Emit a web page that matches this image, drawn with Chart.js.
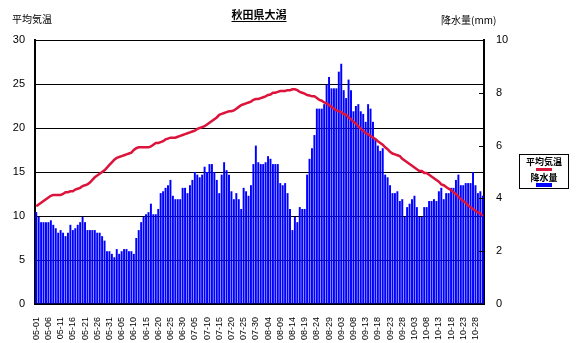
<!DOCTYPE html>
<html lang="ja">
<head>
<meta charset="utf-8">
<title>秋田県大潟</title>
<script src="https://cdn.jsdelivr.net/npm/chart.js@4/dist/chart.umd.min.js"></script>
<style>
  html, body { margin: 0; padding: 0; background: #fff; }
  #wrap { position: relative; width: 581px; height: 343px; }
  #chart { position: absolute; left: 0; top: 0; }
  .txt { position: absolute; font-family: "Noto Sans CJK JP", sans-serif; font-size: 10px; color: #000; line-height: 1; white-space: nowrap; }
  #title { left: 0; width: 518px; top: 9px; text-align: center; font-weight: bold; font-size: 11px; }
  #title span { text-decoration: underline; text-underline-offset: 2px; }
  #yLeftTitle { left: 12px; top: 14px; }
  #yRightTitle { left: 441px; top: 15px; }
  #legend {
    position: absolute; left: 519px; top: 154px; width: 50px; height: 35px;
    border: 1px solid #000; box-sizing: border-box; padding-top: 2px;
    font-family: "Noto Sans CJK JP", sans-serif; font-size: 9px; font-weight: bold;
    line-height: 10px; text-align: center;
  }
  #legend .key { width: 16px; margin: 0 auto; }
  #legend .temp { border-top: 3px solid #dc143c; margin-top: 1px; margin-bottom: 2px; }
  #legend .rain { border-top: 4px solid #0000ff; margin-top: 0; }
</style>
</head>
<body>
<div id="wrap">
  <canvas id="chart" width="581" height="343"></canvas>
  <div id="title" class="txt"><span>秋田県大潟</span></div>
  <div id="yLeftTitle" class="txt">平均気温</div>
  <div id="yRightTitle" class="txt">降水量(mm)</div>
  <div id="legend">
    <div>平均気温</div>
    <div class="key temp"></div>
    <div>降水量</div>
    <div class="key rain"></div>
  </div>
</div>
<script>
// months shown on the x axis and their day counts (05-01 .. 10-31)
const months = ['05', '06', '07', '08', '09', '10'];
const monthDays = [31, 30, 31, 31, 30, 31];

// daily mean temperature (left axis, °C)
const meanTemp = [
  11.1, 11.3, 11.5, 11.7, 11.9, 12.1, 12.3, 12.4, 12.4, 12.4,
  12.4, 12.5, 12.7, 12.7, 12.8, 12.8, 13.0, 13.1, 13.2, 13.4,
  13.5, 13.6, 13.8, 14.1, 14.4, 14.6, 14.8, 15.0, 15.2, 15.5,
  15.8, 16.1, 16.4, 16.6, 16.7, 16.8, 16.9, 17.0, 17.1, 17.2,
  17.5, 17.7, 17.8, 17.8, 17.8, 17.8, 17.8, 17.9, 18.1, 18.3,
  18.3, 18.4, 18.5, 18.7, 18.8, 18.9, 18.9, 18.9, 19.0, 19.1,
  19.2, 19.3, 19.4, 19.5, 19.6, 19.7, 19.9, 20.0, 20.1, 20.2,
  20.4, 20.6, 20.8, 21.0, 21.2, 21.5, 21.6, 21.7, 21.8, 21.9,
  21.9, 22.0, 22.2, 22.4, 22.6, 22.7, 22.8, 22.9, 23.0, 23.2,
  23.3, 23.3, 23.4, 23.5, 23.6, 23.75, 23.8, 24.0, 24.0, 24.1,
  24.2, 24.2, 24.2, 24.3, 24.3, 24.4, 24.4, 24.3, 24.1, 24.0,
  23.9, 23.75, 23.7, 23.6, 23.6, 23.4, 23.2, 23.1, 22.9, 22.8,
  22.6, 22.4, 22.2, 22.0, 21.9, 21.8, 21.6, 21.5, 21.2, 21.0,
  20.7, 20.5, 20.2, 19.9, 19.7, 19.4, 19.3, 19.1, 18.9, 18.75,
  18.5, 18.3, 18.1, 17.8, 17.6, 17.3, 17.1, 17.0, 16.9, 16.8,
  16.5, 16.3, 16.1, 15.9, 15.7, 15.5, 15.3, 15.1, 15.1, 14.9,
  14.9, 14.7, 14.5, 14.3, 14.1, 13.9, 13.6, 13.5, 13.3, 13.1,
  12.95, 12.7, 12.5, 12.2, 11.9, 11.7, 11.5, 11.2, 11.0, 10.8,
  10.6, 10.4, 10.3, 10.0
];

// daily precipitation (right axis, mm)
const precip = [
  3.48, 3.30, 3.10, 3.10, 3.10, 3.10, 3.17, 3.00, 2.87, 2.70,
  2.80, 2.70, 2.57, 2.70, 3.00, 2.80, 2.87, 3.00, 3.10, 3.30,
  3.10, 2.80, 2.80, 2.80, 2.80, 2.70, 2.70, 2.57, 2.40, 2.00,
  2.00, 1.90, 1.77, 2.08, 1.90, 2.00, 2.08, 2.08, 2.00, 2.00,
  1.90, 2.50, 2.80, 3.10, 3.30, 3.40, 3.48, 3.80, 3.40, 3.40,
  3.60, 4.20, 4.27, 4.40, 4.50, 4.70, 4.10, 3.97, 3.97,
  3.97, 4.40, 4.40, 4.20, 4.50, 4.70, 5.00, 4.90, 4.80, 4.90,
  5.20, 5.00, 5.30, 5.30, 5.00, 4.70, 4.20, 4.90, 5.37, 5.07,
  4.90, 4.27, 3.97, 4.20, 3.97, 3.60, 4.40, 4.27, 4.10, 4.50,
  5.30, 6.00, 5.37, 5.30, 5.30, 5.37, 5.60, 5.50, 5.30, 5.30,
  5.30, 4.58, 4.50, 4.58, 4.20, 3.60, 2.80, 3.30, 3.10, 3.67,
  3.60, 3.60, 4.90, 5.50, 5.90, 6.40, 7.40, 7.40, 7.40, 7.57,
  8.30, 8.60, 8.17, 8.17, 8.17, 8.80,
  9.10, 8.10, 7.80, 8.50, 8.10, 7.30, 7.50, 7.57, 7.30, 7.20,
  6.90, 7.57, 7.40, 6.90, 6.25, 6.00, 5.80, 5.90, 4.90, 4.80,
  4.50, 4.20, 4.20, 4.27, 3.90, 3.97, 3.30, 3.67, 3.80, 3.97,
  4.10, 3.67, 3.30, 3.30, 3.67, 3.67, 3.90, 3.90, 3.97, 3.90,
  4.27, 4.40, 3.97, 4.20, 4.20, 4.40, 4.40, 4.70, 4.90, 4.50,
  4.50, 4.58, 4.58, 4.58, 5.00, 4.50, 4.20, 4.27, 4.10
];

// one category per day, labelled MM-DD
const dayLabels = [];
months.forEach((m, i) => {
  for (let d = 1; d <= monthDays[i]; d++) {
    dayLabels.push(m + '-' + String(d).padStart(2, '0'));
  }
});

// small inward tick marks on the precipitation axis
const rightTicks = {
  id: 'rightTicks',
  afterDraw(chart) {
    const { ctx, chartArea } = chart;
    const s = chart.scales.y2;
    ctx.save();
    ctx.strokeStyle = '#000';
    ctx.lineWidth = 1;
    s.ticks.forEach(t => {
      const y = Math.round(s.getPixelForValue(t.value)) + 0.5;
      ctx.beginPath();
      ctx.moveTo(chartArea.right - 5, y);
      ctx.lineTo(chartArea.right, y);
      ctx.stroke();
    });
    ctx.restore();
  }
};

const numFont = { family: '"Liberation Sans", Arial, sans-serif', size: 11 };

new Chart(document.getElementById('chart'), {
  type: 'bar',
  data: {
    labels: dayLabels,
    datasets: [
      {
        type: 'line',
        label: '平均気温',
        data: meanTemp,
        yAxisID: 'y',
        borderColor: '#dc143c',
        borderWidth: 2.5,
        pointRadius: 0,
        tension: 0,
        order: 0
      },
      {
        label: '降水量',
        data: precip,
        yAxisID: 'y2',
        backgroundColor: '#0000ff',
        barPercentage: 1,
        categoryPercentage: 0.8,
        order: 1
      }
    ]
  },
  options: {
    responsive: false,
    animation: false,
    layout: { padding: { top: 40, left: 0, right: 0, bottom: 0 } },
    plugins: {
      legend: { display: false },
      tooltip: { enabled: false }
    },
    scales: {
      x: {
        offset: true,
        grid: { display: false },
        border: { color: '#000', width: 2 },
        ticks: {
          autoSkip: false,
          maxRotation: 90,
          minRotation: 90,
          padding: 5,
          color: '#000',
          font: { family: '"Liberation Sans", Arial, sans-serif', size: 9 },
          callback: (v, i) => (i % 5 === 0 ? dayLabels[i] : '')
        },
        afterFit: s => { s.height = 39; }
      },
      y: {
        position: 'left',
        min: 0,
        max: 30,
        ticks: { stepSize: 5, color: '#000', font: numFont, padding: 10 },
        grid: { color: '#000', lineWidth: 1, drawTicks: false },
        border: { color: '#000', width: 2 },
        afterFit: s => { s.width = 35; }
      },
      y2: {
        position: 'right',
        min: 0,
        max: 10,
        ticks: { stepSize: 2, color: '#000', font: numFont, padding: 12 },
        grid: { drawOnChartArea: false, drawTicks: false },
        border: { color: '#000', width: 2 },
        afterFit: s => { s.width = 97; }
      }
    }
  },
  plugins: [rightTicks]
});
</script>
</body>
</html>
